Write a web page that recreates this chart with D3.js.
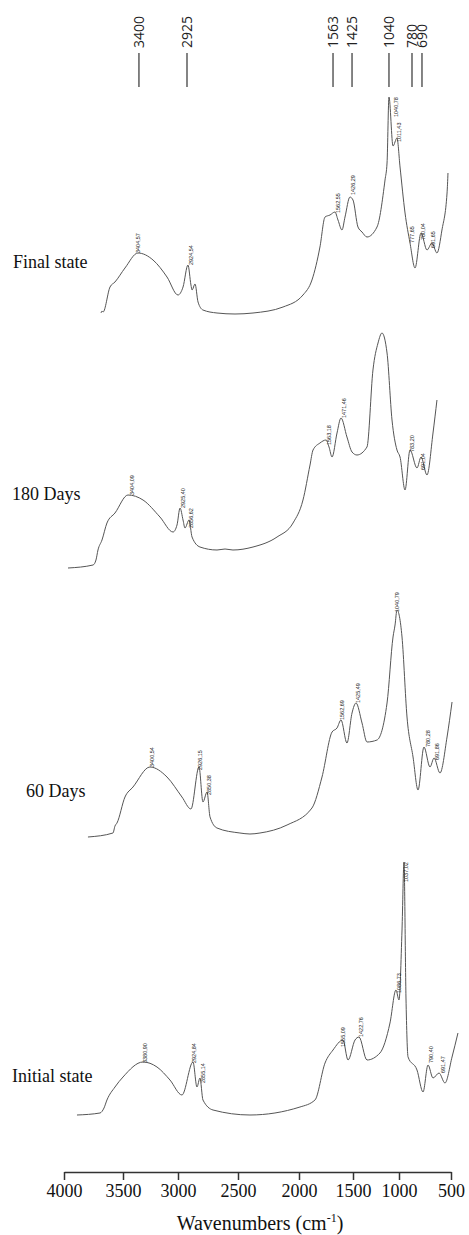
<!DOCTYPE html>
<html>
<head>
<meta charset="utf-8">
<script src="https://cdn.jsdelivr.net/npm/d3@7"></script>
<style>
  body { margin: 0; background: #fff; }
</style>
</head>
<body>
<div id="chart-container"></div>
<script>
// spectra: [wavenumber (cm-1, as read on the axis), absorbance (a.u.)]
const finalState = [
  [3686, 0.01], [3678, 0.02], [3669, 0.015], [3610, 0.14], [3568, 0.165],
  [3482, 0.235], [3364, 0.31], [3227, 0.275], [3100, 0.19], [3000, 0.10],
  [2958, 0.14], [2917, 0.25], [2892, 0.15], [2883, 0.125], [2858, 0.155],
  [2833, 0.065], [2792, 0.025], [2675, 0.01], [2525, 0.005], [2377, 0.01],
  [2131, 0.04], [1963, 0.10], [1880, 0.175], [1806, 0.34], [1759, 0.49],
  [1713, 0.50], [1667, 0.515], [1639, 0.475], [1602, 0.425], [1574, 0.49],
  [1528, 0.59], [1500, 0.575], [1446, 0.44], [1402, 0.415], [1348, 0.39],
  [1239, 0.44], [1152, 0.675], [1130, 0.76], [1109, 1.09], [1065, 0.845],
  [1022, 0.885], [990, 0.74], [942, 0.51], [894, 0.36], [846, 0.235],
  [788, 0.41], [731, 0.325], [683, 0.36], [635, 0.31], [587, 0.425],
  [538, 0.61], [529, 0.71]
];
const days180 = [
  [3966, 0.01], [3754, 0.025], [3729, 0.05], [3712, 0.10], [3678, 0.15],
  [3636, 0.235], [3568, 0.285], [3455, 0.375], [3318, 0.35], [3164, 0.265],
  [3045, 0.19], [3009, 0.225], [2983, 0.31], [2958, 0.25], [2942, 0.21],
  [2908, 0.25], [2883, 0.165], [2817, 0.115], [2675, 0.10], [2608, 0.105],
  [2542, 0.10], [2377, 0.115], [2180, 0.165], [2049, 0.235], [1963, 0.35],
  [1898, 0.525], [1870, 0.60], [1806, 0.635], [1750, 0.65], [1722, 0.615],
  [1694, 0.565], [1648, 0.685], [1611, 0.76], [1556, 0.665], [1509, 0.59],
  [1457, 0.575], [1348, 0.615], [1283, 1.0], [1228, 1.135], [1185, 1.185],
  [1130, 1.085], [1076, 0.75], [1022, 0.60], [990, 0.565], [942, 0.40],
  [894, 0.60], [827, 0.51], [788, 0.565], [731, 0.475], [673, 0.685],
  [635, 0.85]
];
const days60 = [
  [3797, 0.015], [3585, 0.035], [3568, 0.07], [3551, 0.085], [3482, 0.215],
  [3409, 0.265], [3255, 0.365], [3100, 0.315], [2967, 0.215], [2892, 0.155],
  [2825, 0.365], [2792, 0.19], [2758, 0.24], [2733, 0.115], [2675, 0.06],
  [2484, 0.035], [2402, 0.03], [2320, 0.035], [2098, 0.075], [1880, 0.16],
  [1787, 0.315], [1694, 0.54], [1648, 0.56], [1611, 0.60], [1556, 0.485],
  [1509, 0.635], [1467, 0.685], [1402, 0.585], [1348, 0.49], [1239, 0.50],
  [1130, 0.685], [1065, 1.015], [1043, 1.075], [1022, 1.15], [971, 1.015],
  [923, 0.615], [865, 0.415], [817, 0.25], [760, 0.465], [702, 0.365],
  [663, 0.41], [606, 0.335], [538, 0.515], [490, 0.69]
];
const initialState = [
  [3890, 0.01], [3695, 0.02], [3661, 0.045], [3636, 0.085], [3568, 0.15],
  [3500, 0.20], [3318, 0.275], [3191, 0.25], [3073, 0.185], [2967, 0.11],
  [2875, 0.275], [2842, 0.15], [2817, 0.195], [2792, 0.085], [2708, 0.035],
  [2402, 0.01], [1991, 0.05], [1852, 0.085], [1759, 0.27], [1685, 0.335],
  [1593, 0.385], [1546, 0.285], [1478, 0.385], [1435, 0.40], [1348, 0.285],
  [1207, 0.32], [1098, 0.47], [1033, 0.635], [1000, 0.585], [971, 0.935],
  [952, 1.275], [933, 0.60], [913, 0.30], [827, 0.235], [769, 0.125],
  [721, 0.26], [673, 0.195], [615, 0.22], [558, 0.17], [490, 0.30],
  [433, 0.42]
];

// peak annotations: [wavenumber, absorbance, text]
const finalPeaks = [
  [3364, 0.31, "3404,57"], [2892, 0.25, "2924,54"], [1639, 0.51, "1562,55"],
  [1500, 0.60, "1426,29"], [1033, 0.99, "1040,78"], [1000, 0.865, "1011,43"],
  [875, 0.36, "777,65"], [769, 0.375, "780,04"], [673, 0.335, "691,65"]
];
const days180Peaks = [
  [3418, 0.375, "3404,09"], [2958, 0.31, "2925,40"], [2892, 0.21, "2856,62"],
  [1722, 0.625, "1563,18"], [1583, 0.76, "1471,46"], [875, 0.59, "783,20"],
  [769, 0.50, "691,04"]
];
const days60Peaks = [
  [3236, 0.365, "3400,54"], [2817, 0.35, "2926,15"], [2742, 0.225, "2850,38"],
  [1602, 0.60, "1562,69"], [1446, 0.685, "1425,49"], [1022, 1.14, "1040,79"],
  [721, 0.465, "780,28"], [635, 0.40, "691,86"]
];
const initialPeaks = [
  [3300, 0.27, "3380,90"], [2867, 0.27, "2924,84"], [2792, 0.17, "2855,14"],
  [1593, 0.35, "1555,09"], [1413, 0.40, "1422,76"], [1000, 0.62, "1086,73"],
  [933, 1.175, "1037,02"], [692, 0.27, "790,40"], [577, 0.22, "691,47"]
];

const sampleNames = ["Final state", "180 Days", "60 Days", "Initial state"];
const axisTicks = [4000, 3500, 3000, 2500, 2000, 1500, 1000, 500];
const markerLabels = ["3400", "2925", "1563", "1425", "1040", "780", "690"];
const markerAt = [3355, 2925, 1685, 1509, 1109, 875, 779];

const main = function() {
  const width = 469, height = 1235;
  const series = [finalState, days180, days60, initialState];
  const peaks = [finalPeaks, days180Peaks, days60Peaks, initialPeaks];
  // panel layout
  const panelBase = [315, 570, 840, 1117];
  const nameX = [13, 12, 26, 12];
  const nameY = [268, 500, 797, 1082];

  const svg = d3.select("#chart-container")
    .append("svg")
    .attr("width", width)
    .attr("height", height)
    .style("background", "#fff");

  // the printed axis is not evenly spaced, so map each tick
  const x = d3.scaleLinear()
    .domain(axisTicks)
    .range([64, 123, 178, 238, 299, 353, 399, 451]);

  series.forEach((data, i) => {
    const y = d3.scaleLinear()
      .domain([0, 1])
      .range([panelBase[i], panelBase[i] - 200]);

    const line = d3.line()
      .x(d => x(d[0]))
      .y(d => y(d[1]))
      .curve(d3.curveMonotoneX);

    svg.append("path")
      .datum(data)
      .attr("d", line)
      .style("fill", "none")
      .style("stroke", "#555")
      .style("stroke-width", 1);

    svg.selectAll(null)
      .data(peaks[i])
      .enter()
      .append("text")
      .attr("transform", d => "translate(" + (x(d[0]) + 2) + "," + y(d[1]) + ") rotate(-90)")
      .style("font-family", "'Liberation Sans', Arial, sans-serif")
      .style("font-size", "5.5px")
      .style("fill", "#222")
      .text(d => d[2]);

    svg.append("text")
      .attr("x", nameX[i])
      .attr("y", nameY[i])
      .style("font-family", "'Liberation Serif', 'Times New Roman', serif")
      .style("font-size", "18px")
      .style("fill", "#111")
      .text(sampleNames[i]);
  });

  // band markers on top
  const markers = svg.selectAll(null)
    .data(markerAt)
    .enter()
    .append("g");

  markers.append("line")
    .attr("x1", d => x(d))
    .attr("x2", d => x(d))
    .attr("y1", 53)
    .attr("y2", 87)
    .style("stroke", "#333")
    .style("stroke-width", 1.2);

  markers.append("text")
    .attr("transform", d => "translate(" + (x(d) + 5) + ",48) rotate(-90)")
    .style("font-family", "'Open Sans', 'Noto Sans', sans-serif")
    .style("font-size", "14px")
    .style("fill", "#222")
    .text((d, j) => markerLabels[j]);

  // x axis
  const axis = svg.append("g")
    .attr("transform", "translate(0,1172)")
    .call(d3.axisBottom(x)
      .tickValues(axisTicks)
      .tickSize(8)
      .tickSizeOuter(0)
      .tickPadding(4)
      .tickFormat(d3.format("d")));

  axis.select(".domain").style("stroke", "#333").style("stroke-width", 1.5);
  axis.selectAll(".tick line").style("stroke", "#333").style("stroke-width", 1.5);
  axis.selectAll(".tick text")
    .style("font-family", "'Liberation Serif', 'Times New Roman', serif")
    .style("font-size", "18px")
    .style("fill", "#111");

  const title = svg.append("text")
    .attr("x", 260)
    .attr("y", 1230)
    .attr("text-anchor", "middle")
    .style("font-family", "'Liberation Serif', 'Times New Roman', serif")
    .style("font-size", "20px")
    .style("fill", "#111");
  title.append("tspan").text("Wavenumbers (cm");
  title.append("tspan").attr("dy", -8).style("font-size", "12px").text("-1");
  title.append("tspan").attr("dy", 8).text(")");
};

window.onload = main;
</script>
</body>
</html>
